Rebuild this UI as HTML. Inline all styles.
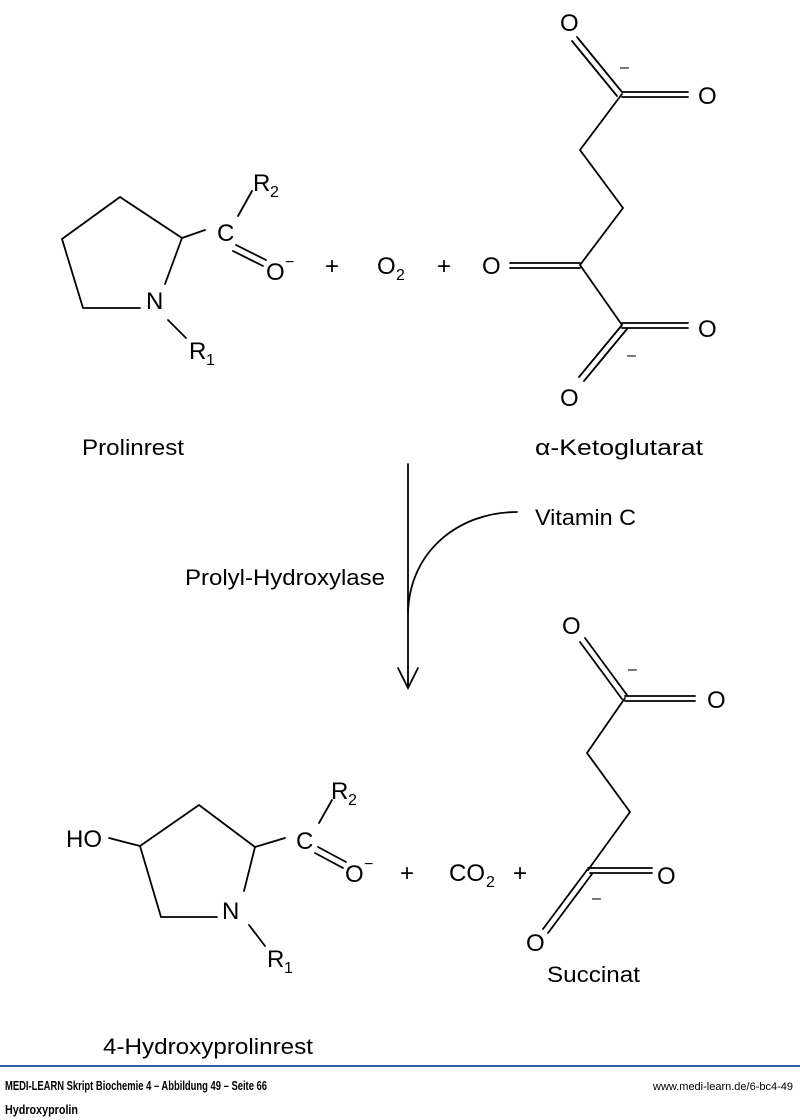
<!DOCTYPE html>
<html><head><meta charset="utf-8"><style>
html,body{margin:0;padding:0;background:#fff}
svg{display:block}
.a{font-family:"Liberation Sans",sans-serif;font-size:24px;fill:#000}
.s{font-family:"Liberation Sans",sans-serif;font-size:16px;fill:#000}
.l{font-family:"Liberation Sans Narrow","Liberation Sans",sans-serif;font-size:22px;fill:#000}
.f{font-family:"Liberation Sans Narrow","Liberation Sans",sans-serif;font-weight:bold;font-size:13px;fill:#000}
.u{font-family:"Liberation Sans Narrow","Liberation Sans",sans-serif;font-size:11px;fill:#000}
</style></head><body>
<svg width="800" height="1120" viewBox="0 0 800 1120" xmlns="http://www.w3.org/2000/svg">
<g stroke="#000" stroke-width="1.8" fill="none" stroke-linecap="round">
<polyline points="140,308 83,308 62,239 120,197 182,238 165,284"/>
<line x1="182" y1="238" x2="205" y2="230"/>
<line x1="238" y1="216" x2="252" y2="191"/>
<line x1="236" y1="245" x2="266" y2="260"/>
<line x1="233" y1="251" x2="263" y2="266"/>
<line x1="168" y1="320" x2="186" y2="338"/>
<line x1="577" y1="37" x2="622" y2="92"/>
<line x1="572" y1="41" x2="617" y2="96"/>
<line x1="622" y1="92" x2="688" y2="92"/>
<line x1="622" y1="97" x2="688" y2="97"/>
<polyline points="622,94 580,150 623,208 580,265 622,325"/>
<line x1="580" y1="263" x2="510" y2="263"/>
<line x1="580" y1="268" x2="510" y2="268"/>
<line x1="622" y1="323" x2="688" y2="323"/>
<line x1="622" y1="328" x2="688" y2="328"/>
<line x1="622" y1="325" x2="579" y2="377"/>
<line x1="627" y1="329" x2="584" y2="381"/>
<line x1="408" y1="464" x2="408" y2="688"/>
<polyline points="398,668 408,688 418,668"/>
<path d="M517,512 C460,512 410,550 408,612"/>
<line x1="109" y1="838" x2="140" y2="846"/>
<polyline points="217,917 161,917 140,846 199,805 255,847 244,891"/>
<line x1="255" y1="847" x2="285" y2="838"/>
<line x1="319" y1="823" x2="332" y2="800"/>
<line x1="318" y1="847" x2="346" y2="862"/>
<line x1="315" y1="853" x2="343" y2="868"/>
<line x1="249" y1="925" x2="265" y2="946"/>
<line x1="585" y1="638" x2="627" y2="695"/>
<line x1="580" y1="642" x2="622" y2="699"/>
<line x1="625" y1="696" x2="695" y2="696"/>
<line x1="625" y1="701" x2="695" y2="701"/>
<polyline points="625,698 587,753 630,812 588,870"/>
<line x1="588" y1="868" x2="652" y2="868"/>
<line x1="590" y1="873" x2="652" y2="873"/>
<line x1="587" y1="870" x2="543" y2="929"/>
<line x1="592" y1="874" x2="548" y2="933"/>
</g>
<line x1="0" y1="1066" x2="800" y2="1066" stroke="#2a5ea8" stroke-width="2"/>
<text class="a" x="146" y="309">N</text>
<text class="a" x="217" y="241">C</text>
<text class="a" x="253" y="191">R</text><text class="s" x="270" y="197">2</text>
<text class="a" x="266" y="280">O</text><text class="s" x="285" y="267">−</text>
<text class="a" x="189" y="359">R</text><text class="s" x="206" y="365">1</text>
<text class="a" x="325" y="274">+</text>
<text class="a" x="377" y="274">O</text><text class="s" x="396" y="280">2</text>
<text class="a" x="437" y="274">+</text>
<text class="a" x="560" y="31">O</text>
<text class="s" x="620" y="72">–</text>
<text class="a" x="698" y="104">O</text>
<text class="a" x="482" y="274">O</text>
<text class="a" x="698" y="337">O</text>
<text class="s" x="627" y="360">–</text>
<text class="a" x="560" y="406">O</text>
<text class="l" x="82" y="455" textLength="102" lengthAdjust="spacingAndGlyphs">Prolinrest</text>
<text class="l" x="535" y="455" textLength="168" lengthAdjust="spacingAndGlyphs">α-Ketoglutarat</text>
<text class="l" x="535" y="525" textLength="101" lengthAdjust="spacingAndGlyphs">Vitamin C</text>
<text class="l" x="185" y="585" textLength="200" lengthAdjust="spacingAndGlyphs">Prolyl-Hydroxylase</text>
<text class="a" x="66" y="847">HO</text>
<text class="a" x="222" y="919">N</text>
<text class="a" x="296" y="849">C</text>
<text class="a" x="331" y="799">R</text><text class="s" x="348" y="805">2</text>
<text class="a" x="345" y="882">O</text><text class="s" x="364" y="869">−</text>
<text class="a" x="267" y="967">R</text><text class="s" x="284" y="973">1</text>
<text class="a" x="400" y="881">+</text>
<text class="a" x="449" y="881">CO</text><text class="s" x="486" y="887">2</text>
<text class="a" x="513" y="881">+</text>
<text class="a" x="562" y="634">O</text>
<text class="s" x="628" y="674">–</text>
<text class="a" x="707" y="708">O</text>
<text class="a" x="657" y="884">O</text>
<text class="s" x="592" y="903">–</text>
<text class="a" x="526" y="951">O</text>
<text class="l" x="547" y="982" textLength="93" lengthAdjust="spacingAndGlyphs">Succinat</text>
<text class="l" x="103" y="1054" textLength="210" lengthAdjust="spacingAndGlyphs">4-Hydroxyprolinrest</text>
<text class="f" x="5" y="1090" textLength="262" lengthAdjust="spacingAndGlyphs">MEDI-LEARN Skript Biochemie 4 – Abbildung 49 – Seite 66</text>
<text class="u" x="793" y="1090" text-anchor="end" textLength="140" lengthAdjust="spacingAndGlyphs">www.medi-learn.de/6-bc4-49</text>
<text class="f" x="5" y="1114" textLength="73" lengthAdjust="spacingAndGlyphs">Hydroxyprolin</text>
</svg>
</body></html>
